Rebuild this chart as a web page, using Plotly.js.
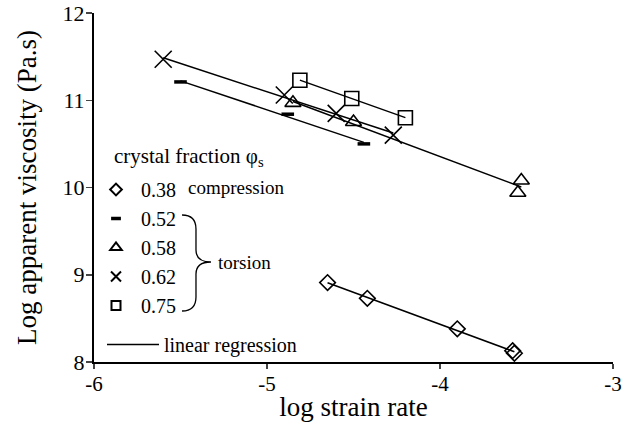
<!DOCTYPE html>
<html><head><meta charset="utf-8">
<script src="https://cdn.plot.ly/plotly-3.0.1.min.js"></script>
<style>html,body{margin:0;padding:0;background:#fff}</style>
</head><body><div id="chart" style="width:626px;height:432px"></div>
<script>
// data (log strain rate, log apparent viscosity)
const x038 = [-4.65, -4.42, -3.90, -3.58, -3.57];
const y038 = [8.91, 8.73, 8.38, 8.13, 8.10];
const x052 = [-5.50, -4.88, -4.44];
const y052 = [11.21, 10.84, 10.50];
const x058 = [-4.85, -4.50, -3.53, -3.55];
const y058 = [10.97, 10.75, 10.08, 9.94];
const x062 = [-5.60, -4.90, -4.60, -4.27];
const y062 = [11.47, 11.06, 10.85, 10.60];
const x075 = [-4.81, -4.51, -4.20];
const y075 = [11.23, 11.02, 10.80];
const seriesNames = ['0.38', '0.52', '0.58', '0.62', '0.75'];
const xTicks = [-6, -5, -4, -3];
const yTicks = [8, 9, 10, 11, 12];

const xs = [x038, x052, x058, x062, x075];
const ys = [y038, y052, y058, y062, y075];
const symbols = ['diamond-open', 'line-ew', 'triangle-up-open', 'x-thin-open', 'square-open'];
const sizes = [12, 9, 14, 17, 14];
const legSizes = [9, 7, 10, 10, 9];
const lw = [1.6, 3.5, 1.6, 1.6, 1.6];
const legLw = [2, 3.5, 2, 2, 2];

function fit(xa, ya) {
  const n = xa.length;
  const mx = xa.reduce((a, b) => a + b, 0) / n;
  const my = ya.reduce((a, b) => a + b, 0) / n;
  let sxy = 0, sxx = 0;
  for (let i = 0; i < n; i++) { sxy += (xa[i] - mx) * (ya[i] - my); sxx += (xa[i] - mx) ** 2; }
  const b = sxy / sxx, a = my - b * mx;
  const x0 = Math.min(...xa), x1 = Math.max(...xa);
  return { x: [x0, x1], y: [a + b * x0, a + b * x1] };
}

const traces = [];
for (let i = 0; i < 5; i++) {
  const f = fit(xs[i], ys[i]);
  traces.push({
    x: f.x, y: f.y, type: 'scatter', mode: 'lines', name: 'linear regression',
    legend: 'legend2', showlegend: i === 0,
    line: { color: '#000', width: 1.5 }
  });
}
for (let i = 0; i < 5; i++) {
  traces.push({
    x: xs[i], y: ys[i], type: 'scatter', mode: 'markers', name: seriesNames[i],
    showlegend: false, cliponaxis: false,
    marker: { symbol: symbols[i], size: sizes[i], color: '#000', line: { color: '#000', width: lw[i] } }
  });
}
// legend keys (no data of their own)
for (let i = 0; i < 5; i++) {
  traces.push({
    x: [null], y: [null], type: 'scatter', mode: 'markers', name: seriesNames[i],
    legend: 'legend', showlegend: true,
    marker: { symbol: symbols[i], size: legSizes[i], color: '#000', line: { color: '#000', width: legLw[i] } }
  });
}

const L = 94, R = 613, T = 13, B = 362;
const px = v => (v - L) / (R - L);
const py = v => (B - v) / (B - T);
function pathPx(cmds) {
  return cmds.map(c => typeof c === 'string' ? c : (px(c[0]).toFixed(4) + ',' + py(c[1]).toFixed(4))).join(' ');
}
const brace = pathPx(['M', [182, 215], 'Q', [196, 215], [196, 229], 'L', [196, 250], 'Q', [196, 262], [211, 262],
  'Q', [196, 262], [196, 274], 'L', [196, 297], 'Q', [196, 311], [182, 311]]);

const layout = {
  width: 626, height: 432,
  margin: { l: L, r: 626 - R, t: T, b: 432 - B },
  paper_bgcolor: '#fff', plot_bgcolor: '#fff',
  font: { family: 'Liberation Serif, Times New Roman, serif', color: '#000', size: 20 },
  showlegend: true,
  legend: {
    x: px(91), y: py(170), xanchor: 'left', yanchor: 'top',
    bgcolor: 'rgba(0,0,0,0)', itemwidth: 40, font: { size: 20 }, traceorder: 'normal'
  },
  legend2: {
    x: px(102), y: py(325), xanchor: 'left', yanchor: 'top',
    bgcolor: 'rgba(0,0,0,0)', itemwidth: 52, font: { size: 20 }
  },
  xaxis: {
    range: [-6, -3], tickvals: xTicks, ticktext: xTicks.map(String),
    showline: true, linewidth: 2, linecolor: '#000', ticks: 'outside', ticklen: 5, tickwidth: 1.5,
    showgrid: false, zeroline: false, tickfont: { size: 21 }, ticklabelstandoff: -3,
    title: { text: 'log strain rate', font: { size: 27 }, standoff: 2 }
  },
  yaxis: {
    range: [8, 12], tickvals: yTicks, ticktext: yTicks.map(String),
    showline: true, linewidth: 2, linecolor: '#000', ticks: 'outside', ticklen: 6, tickwidth: 1.5,
    showgrid: false, zeroline: false, tickfont: { size: 22 }, ticklabelstandoff: -3,
    title: { text: 'Log apparent viscosity (Pa.s)', font: { size: 27 }, standoff: 18 }
  },
  annotations: [
    { text: 'crystal fraction φ<sub>s</sub>', xref: 'paper', yref: 'paper', x: px(112), y: py(157), xanchor: 'left', yanchor: 'middle', showarrow: false, font: { size: 21 } },
    { text: 'compression', xref: 'paper', yref: 'paper', x: px(186), y: py(187), xanchor: 'left', yanchor: 'middle', showarrow: false, font: { size: 19 } },
    { text: 'torsion', xref: 'paper', yref: 'paper', x: px(216), y: py(262), xanchor: 'left', yanchor: 'middle', showarrow: false, font: { size: 19 } }
  ],
  shapes: [
    { type: 'path', xref: 'paper', yref: 'paper', path: brace, line: { color: '#000', width: 1.3 } }
  ]
};

Plotly.newPlot('chart', traces, layout, { staticPlot: true, displayModeBar: false });
</script>
</body></html>
